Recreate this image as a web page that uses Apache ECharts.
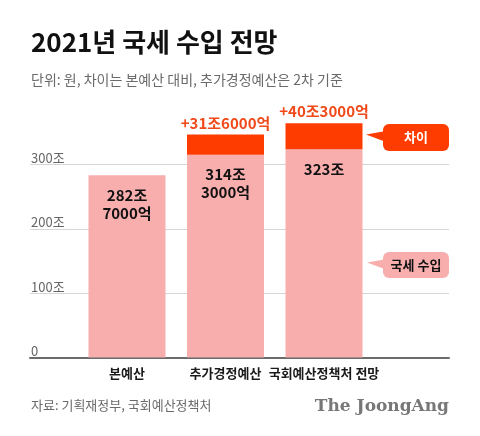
<!DOCTYPE html>
<html>
<head>
<meta charset="utf-8">
<script src="https://cdn.jsdelivr.net/npm/echarts@6/dist/echarts.min.js"></script>
<style>
html,body{margin:0;padding:0;background:#fff;}
#chart{width:480px;height:436px;}
</style>
</head>
<body>
<div id="chart"></div>
<script>
const categories = ['본예산', '추가경정예산', '국회예산정책처 전망'];
const totalValues = [282.7, 314.3, 323.0];
const diffValues = [null, 31.6, 40.3];
const totalLabels = ['282조\n7000억', '314조\n3000억', '323조'];
const diffLabels = ['', '+31조6000억', '+40조3000억'];
const yTickLabels = {0: '0', 100: '100조', 200: '200조', 300: '300조'};

const FONT = '"Noto Sans CJK KR", "Noto Sans", sans-serif';
const PINK = '#f9aeae';
const RED = '#ff3c00';

const chart = echarts.init(document.getElementById('chart'), null, {renderer: 'canvas'});

const option = {
  backgroundColor: '#ffffff',
  animation: false,
  textStyle: {fontFamily: FONT},
  grid: [
    {left: 30, right: 31, top: 164.5, bottom: 78.5},
    {left: 77.75, width: 295.5, top: 99.5, bottom: 78.5}
  ],
  xAxis: [
    {
      gridIndex: 0, type: 'category', data: [''],
      axisLine: {show: true, lineStyle: {color: '#6b6b6b', width: 2}},
      axisTick: {show: false}, axisLabel: {show: false}, splitLine: {show: false}
    },
    {
      gridIndex: 1, type: 'category', data: categories,
      axisLine: {show: false}, axisTick: {show: false},
      axisLabel: {interval: 0, hideOverlap: false, margin: 9, color: '#1a1a1a', fontSize: 13, fontWeight: 'bold', fontFamily: FONT}
    }
  ],
  yAxis: [
    {
      gridIndex: 0, type: 'value', min: 0, max: 300, interval: 100,
      axisLine: {show: false}, axisTick: {show: false},
      splitLine: {show: true, lineStyle: {color: '#d6d6d6', width: 1}},
      axisLabel: {
        inside: true, margin: 1, verticalAlign: 'bottom', color: '#666', fontSize: 13, fontFamily: FONT,
        formatter: v => yTickLabels[v]
      }
    },
    {
      gridIndex: 1, type: 'value', min: 0, max: 400, interval: 100, show: false,
      splitLine: {show: false}
    }
  ],
  series: [
    {
      type: 'bar', xAxisIndex: 1, yAxisIndex: 1, stack: 'a', barWidth: 77,
      data: totalValues,
      itemStyle: {color: PINK},
      label: {
        show: true, position: 'insideTop', distance: 11,
        formatter: p => totalLabels[p.dataIndex],
        color: '#111', fontSize: 15, fontWeight: 'bold', lineHeight: 18, fontFamily: FONT
      }
    },
    {
      type: 'bar', xAxisIndex: 1, yAxisIndex: 1, stack: 'a', barWidth: 77,
      data: diffValues,
      itemStyle: {color: RED},
      label: {
        show: true, position: 'top', distance: 4,
        formatter: p => diffLabels[p.dataIndex],
        color: '#f04a1a', fontSize: 15, fontWeight: 'bold', fontFamily: FONT
      }
    }
  ],
  graphic: [
    {type: 'text', left: 31, top: 29, style: {text: '2021년 국세 수입 전망', font: 'bold 26px ' + FONT, fill: '#111'}},
    {type: 'text', left: 31, top: 73, style: {text: '단위: 원, 차이는 본예산 대비, 추가경정예산은 2차 기준', font: '14px ' + FONT, fill: '#6a6a6a'}},
    {type: 'text', left: 31, top: 399, style: {text: '자료: 기획재정부, 국회예산정책처', font: '13px ' + FONT, fill: '#6a6a6a'}},
    {type: 'text', right: 31, top: 398, style: {text: 'The JoongAng', font: 'bold 17px "DejaVu Serif", "Liberation Serif", serif', fill: '#777'}},
    {type: 'polygon', shape: {points: [[366, 134.5], [386, 131], [386, 142]]}, style: {fill: RED}},
    {type: 'rect', shape: {x: 383, y: 124, width: 66, height: 27, r: 6}, style: {fill: RED}},
    {type: 'text', x: 416, y: 137.5, style: {text: '차이', font: 'bold 13px ' + FONT, fill: '#fff', align: 'center', verticalAlign: 'middle'}},
    {type: 'polygon', shape: {points: [[367, 262.5], [387, 259], [387, 270]]}, style: {fill: PINK}},
    {type: 'rect', shape: {x: 383, y: 252, width: 66, height: 26, r: 6}, style: {fill: PINK}},
    {type: 'text', x: 416, y: 265, style: {text: '국세 수입', font: 'bold 13px ' + FONT, fill: '#111', align: 'center', verticalAlign: 'middle'}}
  ]
};
chart.setOption(option);
</script>
</body>
</html>
